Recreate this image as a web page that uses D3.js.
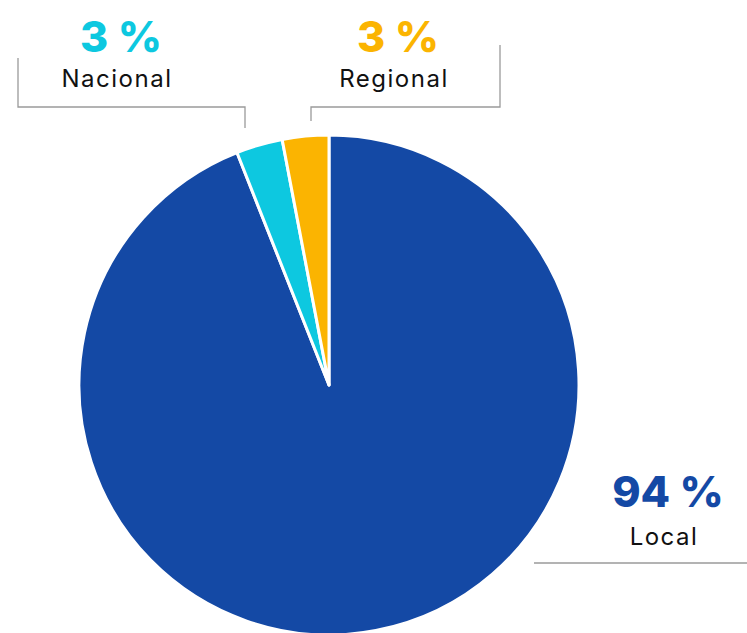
<!DOCTYPE html>
<html><head><meta charset="utf-8">
<script src="https://cdn.jsdelivr.net/npm/d3@7"></script>
<style>body{margin:0;background:#fff;overflow:hidden}svg{display:block}</style>
</head><body><svg id="c" width="747" height="633"></svg>
<script>
const categories = ["Local", "Nacional", "Regional"];
const values = [94, 3, 3];
const labels = ["94 %", "3 %", "3 %"];
const colors = ["#1449A5", "#0DC8E0", "#FBB401"];

const svg = d3.select("#c");
const cx = 329, cy = 385, r = 250;
const pie = d3.pie().sort(null).value(d => d.v);
const arcs = pie(categories.map((c, i) => ({c, v: values[i], col: colors[i]})));
const arc = d3.arc().innerRadius(0).outerRadius(r);
const g = svg.append("g").attr("transform", `translate(${cx},${cy})`);
g.selectAll("path").data(arcs).join("path")
  .attr("d", arc).attr("fill", d => d.data.col)
  .attr("stroke", "#fff").attr("stroke-width", 3).attr("stroke-linejoin", "round");

const lc = "#9a9a9a";
const line = d3.line();
const leaders = [
  [[18, 58], [18, 107], [245, 107], [245, 128]],
  [[500, 45], [500, 107], [311, 107], [311, 121]],
  [[534, 563], [747, 563]]
];
svg.selectAll("path.lead").data(leaders).join("path").attr("class", "lead")
  .attr("d", line).attr("fill", "none").attr("stroke", lc).attr("stroke-width", 1.3);

const lab = [
  {i: 1, x: 121, y1: 52, y2: 87},
  {i: 2, x: 398, y1: 52, y2: 87},
  {i: 0, x: 668, y1: 507, y2: 545}
];
const font = "Inter, 'Open Sans', sans-serif";
lab.forEach(d => {
  svg.append("text").attr("x", d.x).attr("y", d.y1).attr("text-anchor", "middle")
    .attr("font-family", font).attr("font-weight", 800).attr("font-size", 43)
    .attr("fill", colors[d.i]).text(labels[d.i]);
  svg.append("text").attr("x", d.x - 4).attr("y", d.y2).attr("text-anchor", "middle")
    .attr("font-family", font).attr("font-weight", 400).attr("font-size", 24)
    .attr("letter-spacing", 1.5)
    .attr("fill", "#111").text(categories[d.i]);
});
</script></body></html>
